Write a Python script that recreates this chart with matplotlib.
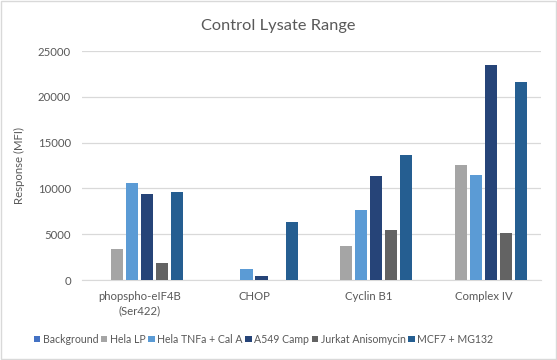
import numpy as np
import matplotlib.pyplot as plt
from matplotlib.patches import Rectangle

plt.rcParams['font.family'] = ['Lato', 'DejaVu Sans']

categories = ['phopspho-eIF4B\n(Ser422)', 'CHOP', 'Cyclin B1', 'Complex IV']
series = ['Background', 'Hela LP', 'Hela TNFa + Cal A', 'A549 Camp',
          'Jurkat Anisomycin', 'MCF7 + MG132']
background = [0, 0, 0, 0]
hela_lp = [3400, 0, 3700, 12550]
hela_tnfa = [10600, 1200, 7700, 11450]
a549 = [9450, 450, 11350, 23450]
jurkat = [1900, 0, 5500, 5150]
mcf7 = [9650, 6300, 13700, 21650]
colors = ['#4472C4', '#A5A5A5', '#5B9BD5', '#264478', '#636363', '#255E91']

values = [background, hela_lp, hela_tnfa, a549, jurkat, mcf7]

fig = plt.figure(figsize=(5.57, 3.6), dpi=100)
ax = fig.add_axes([0.147, 0.222, 0.824, 0.636])

x = np.arange(len(categories))
step = 0.131
for i, (name, vals) in enumerate(zip(series, values)):
    ax.bar(x + (i - 2.5) * step, vals, width=0.105, color=colors[i], label=name, zorder=3)

ax.set_xlim(-0.5, 3.5)
ax.set_ylim(0, 25000)
ax.set_yticks(range(0, 25001, 5000))
ax.set_xticks(x)
ax.set_xticklabels(categories, linespacing=1.3)
ax.grid(axis='y', color='#D9D9D9', linewidth=0.9, zorder=0)
for s in ['top', 'right', 'left']:
    ax.spines[s].set_visible(False)
ax.spines['bottom'].set_color('#D9D9D9')
ax.tick_params(axis='both', length=0, labelsize=8.2, colors='#595959', pad=8)
ax.set_ylabel('Response (MFI)', fontsize=8.2, color='#595959', labelpad=9)
fig.text(0.5, 0.927, 'Control Lysate Range', ha='center', va='center',
         fontsize=11.8, color='#595959')

fig.legend(loc='center', bbox_to_anchor=(0.473, 0.058), ncol=6, frameon=False,
           fontsize=7.6, handlelength=0.6, handleheight=0.6, handletextpad=0.25,
           columnspacing=0.25, borderpad=0.1, labelcolor='#595959')

fig.patches.append(Rectangle((0.002, 0.003), 0.996, 0.994, transform=fig.transFigure,
                             fill=False, edgecolor='#D9D9D9', linewidth=1))

fig.savefig('out.png', dpi=100)
